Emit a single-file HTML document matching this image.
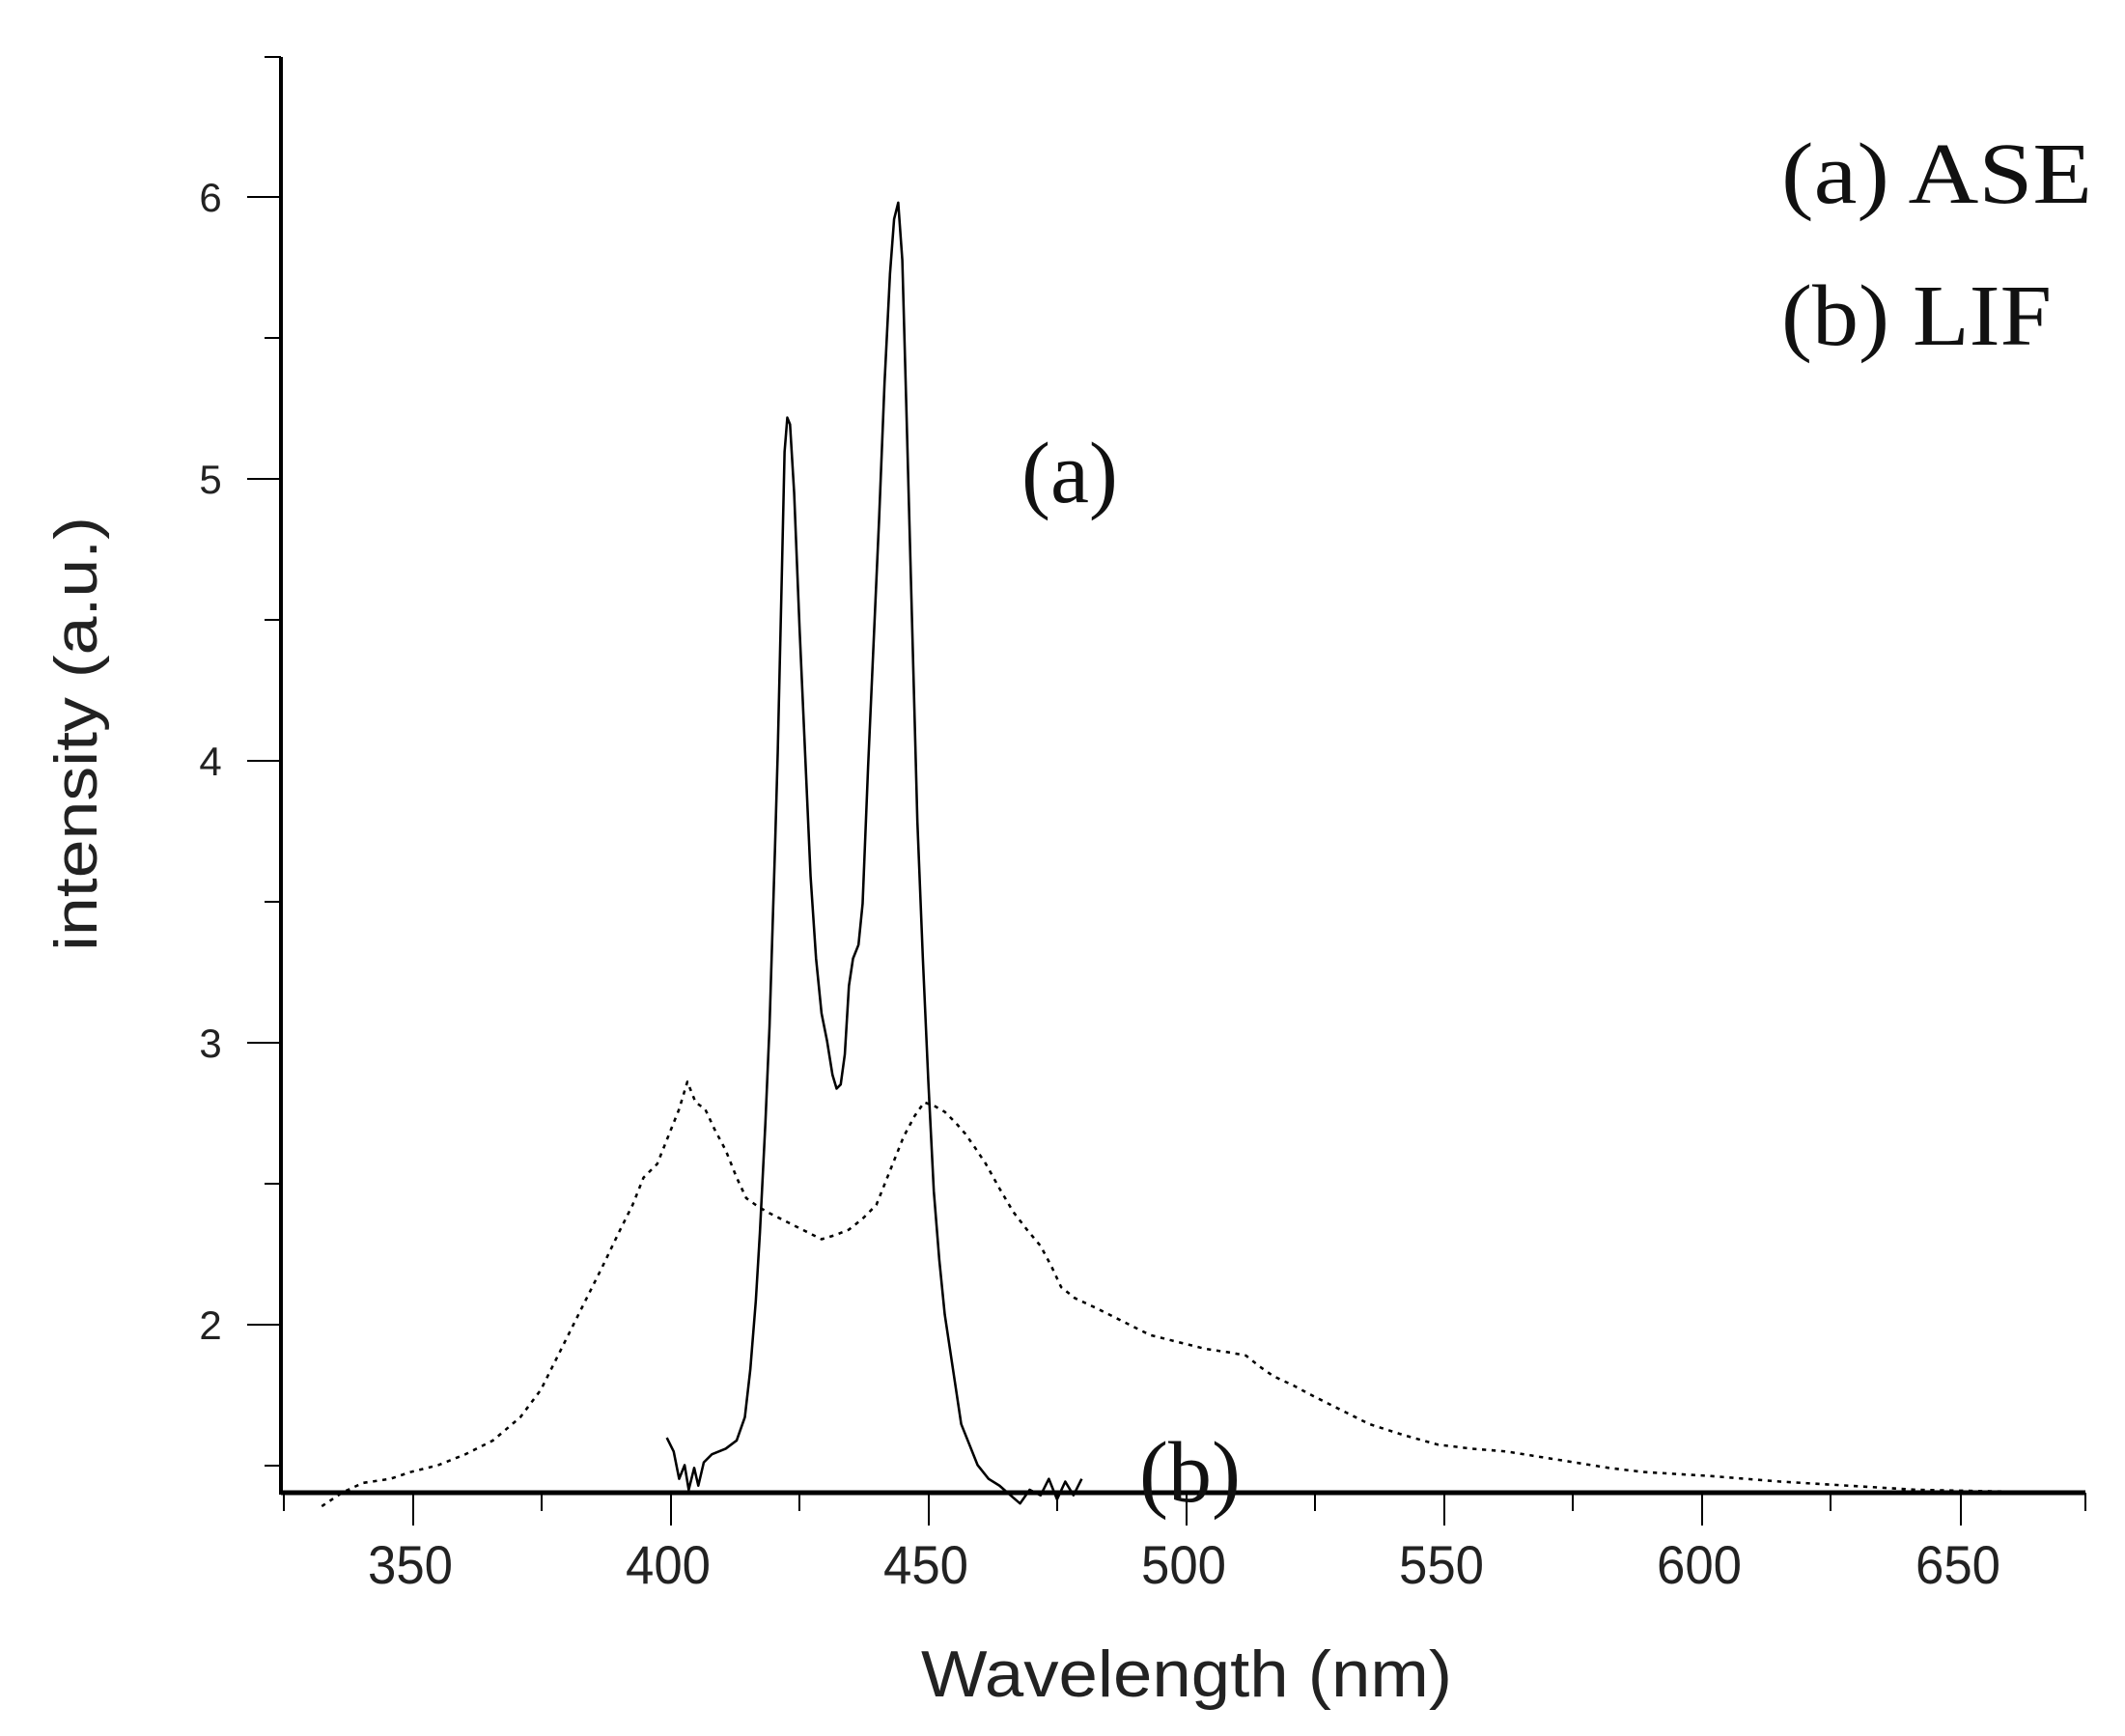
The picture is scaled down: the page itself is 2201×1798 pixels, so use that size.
<!DOCTYPE html>
<html><head><meta charset="utf-8"><style>
html,body{margin:0;padding:0;background:#fff;}
svg{display:block}
</style></head><body>
<svg width="2201" height="1798" viewBox="0 0 2201 1798" xmlns="http://www.w3.org/2000/svg">
<rect width="2201" height="1798" fill="#fff"/>
<g transform="scale(1.4182)" fill="none" stroke="#000" stroke-linejoin="round">
<polyline stroke-width="1.8" points="487,1050 492,1060 496,1080 500,1070 503,1088 507,1072 510,1085 514,1068 520,1062 530,1058 538,1052 544,1035 548,1000 552,950 555,900 559,820 562,750 566,620 568,550 571,420 573,330 575,305 577,310 580,360 584,460 588,550 592,640 596,700 600,740 604,760 608,785 611,795 614,792 617,770 620,720 623,700 627,690 630,660 634,560 638,470 642,380 646,280 650,200 653,160 656,148 659,190 662,300 666,450 670,600 674,700 678,790 682,870 686,920 690,960 696,1000 702,1040 708,1055 714,1070 722,1080 730,1085 738,1092 745,1098 752,1088 760,1092 766,1080 772,1095 778,1082 784,1092 790,1080"/>
<polyline stroke-width="1.8" stroke-dasharray="3,4" points="235,1100 250,1090 265,1083 285,1080 300,1075 320,1070 340,1062 360,1052 380,1035 395,1015 410,985 425,955 440,925 452,900 462,880 470,860 480,850 490,825 496,810 502,790 508,805 515,810 522,825 530,840 538,860 545,875 552,880 560,885 570,890 580,895 590,900 600,905 610,902 620,898 630,890 640,880 650,855 660,830 668,815 675,805 683,808 690,812 698,820 705,828 712,838 720,850 730,868 740,885 750,898 760,910 768,925 775,940 785,948 800,955 820,965 840,975 860,980 880,985 900,988 910,990 920,998 930,1005 945,1012 960,1020 980,1030 1000,1040 1025,1048 1050,1055 1075,1058 1100,1060 1125,1064 1150,1068 1175,1072 1200,1075 1250,1078 1300,1082 1350,1085 1400,1088 1450,1089 1520,1090"/>
</g>
<g stroke="#000">
<line x1="291" y1="59" x2="291" y2="1548" stroke-width="4"/>
<line x1="291" y1="1546" x2="2160" y2="1546" stroke-width="5"/>
<g stroke-width="2">
<line x1="256" y1="204" x2="291" y2="204"/>
<line x1="256" y1="496" x2="291" y2="496"/>
<line x1="256" y1="788" x2="291" y2="788"/>
<line x1="256" y1="1080" x2="291" y2="1080"/>
<line x1="256" y1="1372" x2="291" y2="1372"/>
<line x1="274" y1="59" x2="291" y2="59"/>
<line x1="274" y1="350" x2="291" y2="350"/>
<line x1="274" y1="642" x2="291" y2="642"/>
<line x1="274" y1="934" x2="291" y2="934"/>
<line x1="274" y1="1226" x2="291" y2="1226"/>
<line x1="274" y1="1518" x2="291" y2="1518"/>
<line x1="428" y1="1546" x2="428" y2="1580"/>
<line x1="695" y1="1546" x2="695" y2="1580"/>
<line x1="962" y1="1546" x2="962" y2="1580"/>
<line x1="1229" y1="1546" x2="1229" y2="1580"/>
<line x1="1496" y1="1546" x2="1496" y2="1580"/>
<line x1="1763" y1="1546" x2="1763" y2="1580"/>
<line x1="2031" y1="1546" x2="2031" y2="1580"/>
<line x1="294" y1="1546" x2="294" y2="1565"/>
<line x1="561" y1="1546" x2="561" y2="1565"/>
<line x1="828" y1="1546" x2="828" y2="1565"/>
<line x1="1095" y1="1546" x2="1095" y2="1565"/>
<line x1="1362" y1="1546" x2="1362" y2="1565"/>
<line x1="1629" y1="1546" x2="1629" y2="1565"/>
<line x1="1896" y1="1546" x2="1896" y2="1565"/>
<line x1="2160" y1="1546" x2="2160" y2="1565"/>
</g></g>
<g font-family="Liberation Sans, sans-serif" font-size="42" fill="#222" text-anchor="middle">
<text x="218" y="219">6</text><text x="218" y="511">5</text><text x="218" y="803">4</text><text x="218" y="1095">3</text><text x="218" y="1387">2</text>
</g>
<g font-family="Liberation Sans, sans-serif" font-size="56" fill="#222" text-anchor="middle">
<text x="425" y="1640" textLength="88" lengthAdjust="spacingAndGlyphs">350</text>
<text x="692" y="1640" textLength="88" lengthAdjust="spacingAndGlyphs">400</text>
<text x="959" y="1640" textLength="88" lengthAdjust="spacingAndGlyphs">450</text>
<text x="1226" y="1640" textLength="88" lengthAdjust="spacingAndGlyphs">500</text>
<text x="1493" y="1640" textLength="88" lengthAdjust="spacingAndGlyphs">550</text>
<text x="1760" y="1640" textLength="88" lengthAdjust="spacingAndGlyphs">600</text>
<text x="2028" y="1640" textLength="88" lengthAdjust="spacingAndGlyphs">650</text>
</g>
<text x="1229" y="1757" font-family="Liberation Sans, sans-serif" font-size="68" fill="#222" text-anchor="middle" textLength="550" lengthAdjust="spacingAndGlyphs">Wavelength (nm)</text>
<text transform="translate(100,760) rotate(-90)" font-family="Liberation Sans, sans-serif" font-size="62" fill="#222" text-anchor="middle" textLength="450" lengthAdjust="spacingAndGlyphs">intensity (a.u.)</text>
<g font-family="Liberation Serif, serif" font-size="90" fill="#111">
<text x="1845" y="210" textLength="322" lengthAdjust="spacingAndGlyphs">(a) ASE</text>
<text x="1845" y="357" textLength="280" lengthAdjust="spacingAndGlyphs">(b) LIF</text>
<text x="1058" y="520">(a)</text>
<text x="1180" y="1555">(b)</text>
</g>
</svg>
</body></html>
